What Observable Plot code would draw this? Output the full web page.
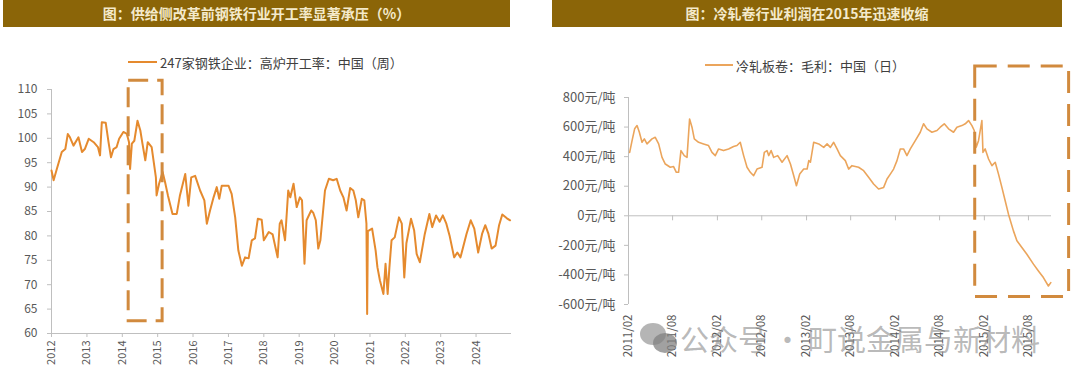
<!DOCTYPE html>
<html><head><meta charset="utf-8">
<script src="https://cdn.jsdelivr.net/npm/d3@7"></script>
<script src="https://cdn.jsdelivr.net/npm/@observablehq/plot@0.6"></script>
<style>
body{margin:0;background:#fff;font-family:"Noto Sans CJK SC","Noto Sans",sans-serif;}
#wrap{position:relative;width:1080px;height:383px;overflow:hidden;background:#fff}
.bar{position:absolute;top:0;height:27px;background:#8B6508;color:#F4EACB;font-size:14px;font-weight:bold;line-height:27px;text-align:center;white-space:nowrap}
.legend{position:absolute;font-size:13px;color:#404040;display:flex;align-items:center;white-space:nowrap;height:18px}
.legend i{display:inline-block;width:29px;height:2px;margin-right:3px}
.plot{position:absolute}
.wm{position:absolute;left:640px;top:318px;height:40px;display:flex;align-items:center;white-space:nowrap;font-size:29px;color:rgba(140,140,140,0.62);font-family:"Noto Sans CJK SC",sans-serif}
.wm .ic{position:relative;width:40px;height:34px}
.wm .ic b{position:absolute;border-radius:50%;background:rgba(150,150,150,0.7)}
</style>
</head><body>
<div id="wrap">
  <div class="bar" style="left:3px;width:507px">图：供给侧改革前钢铁行业开工率显著承压（%）</div>
  <div class="bar" style="left:552px;width:510px">图：冷轧卷行业利润在2015年迅速收缩</div>
  <div class="legend" style="left:128px;top:53px"><i style="background:#E58A2E"></i>247家钢铁企业：高炉开工率：中国（周）</div>
  <div class="legend" style="left:705px;top:56px"><i style="background:#EBA55C;width:28px"></i>冷轧板卷：毛利：中国（日）</div>
  <div id="left" class="plot" style="left:0;top:75px"></div>
  <div id="right" class="plot" style="left:540px;top:60px"></div>
  <div class="wm"><div class="ic"><b style="left:0;top:2px;width:26px;height:22px"></b><b style="left:13px;top:12px;width:24px;height:20px;background:rgba(130,130,130,0.75)"></b></div>公众号<span style="margin:0 6px">·</span>町说金属与新材料</div>
</div>
<script>
// ---- Left chart data: 247家钢铁企业 高炉开工率 (decimal year, %)
const leftYears = [2012.00,2012.06,2012.15,2012.29,2012.39,2012.46,2012.52,2012.62,2012.76,2012.86,2012.94,
 2013.05,2013.19,2013.31,2013.37,2013.42,2013.53,2013.61,2013.68,2013.75,2013.84,2013.91,
 2014.03,2014.13,2014.19,2014.22,2014.27,2014.34,2014.43,2014.51,2014.57,2014.65,2014.72,2014.83,2014.95,2014.97,
 2015.04,2015.14,2015.21,2015.29,2015.42,2015.54,2015.63,2015.78,2015.87,2015.95,
 2016.06,2016.20,2016.32,2016.39,2016.48,2016.58,2016.67,2016.74,2016.81,
 2017.00,2017.09,2017.19,2017.28,2017.38,2017.47,2017.57,2017.66,2017.75,2017.83,2017.94,
 2018.00,2018.14,2018.25,2018.39,2018.45,2018.50,2018.60,2018.69,2018.75,2018.84,2018.93,
 2019.02,2019.08,2019.15,2019.21,2019.34,2019.40,2019.47,2019.54,2019.60,2019.73,2019.84,2019.96,
 2020.06,2020.16,2020.25,2020.34,2020.44,2020.53,2020.60,2020.67,2020.77,2020.84,2020.90,2020.92,2020.94,
 2021.06,2021.16,2021.21,2021.28,2021.38,2021.44,2021.50,2021.55,2021.61,2021.70,2021.82,2021.90,2021.97,
 2022.03,2022.16,2022.25,2022.32,2022.41,2022.55,2022.68,2022.76,2022.87,2022.97,
 2023.06,2023.16,2023.25,2023.38,2023.47,2023.56,2023.73,2023.85,2023.95,
 2024.06,2024.17,2024.26,2024.35,2024.44,2024.55,2024.65,2024.74,2024.87,2024.96];
const leftValues = [93.4,91.4,93.7,97.2,97.8,100.9,100.2,98.5,100.2,97.2,97.8,
 99.9,99.2,98.2,96.5,103.3,103.2,99.2,96.1,97.8,98.2,99.9,
 101.3,100.9,99.2,93.7,98.9,99.5,103.6,101.6,98.9,95.5,99.2,98.2,92.0,88.3,
 90.7,93.1,91.0,88.3,84.5,84.5,88.3,92.7,86.2,92.0,
 92.3,89.3,87.3,82.5,85.2,87.9,90.0,87.6,90.3,
 90.3,88.6,83.8,77.0,73.9,75.6,75.4,79.1,79.5,83.5,83.3,
 79.1,80.8,80.3,75.6,82.5,83.2,79.1,89.3,87.9,90.7,85.9,
 87.9,87.3,74.3,83.2,85.2,84.7,83.2,77.4,79.1,89.3,91.7,91.4,
 91.7,89.3,87.9,85.2,89.8,89.3,87.3,83.8,87.6,87.3,82.5,64.0,81.0,
 81.5,77.0,73.6,70.9,68.1,74.3,68.1,73.6,79.1,79.7,83.8,82.5,71.5,
 78.5,83.5,81.1,76.3,74.6,80.4,84.5,81.8,84.2,82.9,
 84.2,82.5,80.1,75.6,76.6,75.6,80.4,83.2,81.5,
 76.6,80.4,82.2,80.4,77.4,78.0,82.2,84.4,83.6,83.2];
const leftYTicks = [60,65,70,75,80,85,90,95,100,105,110];
const leftXTickYears = [2012,2013,2014,2015,2016,2017,2018,2019,2020,2021,2022,2023,2024];
const leftDomainYears = [2012, 2025];
const leftBox = [{x1: 2014.18, x2: 2015.14, y1: 62.5, y2: 111.8}];

// ---- Right chart data: 冷轧板卷 毛利 (decimal year, 元/吨)
const rightYears = [2011.098,2011.125,2011.154,2011.181,2011.207,2011.237,2011.263,2011.293,2011.349,2011.386,2011.424,2011.462,2011.499,2011.555,2011.592,2011.623,2011.648,2011.675,2011.712,2011.743,2011.772,2011.799,2011.825,2011.873,2011.929,2011.985,
 2012.024,2012.061,2012.098,2012.154,2012.210,2012.266,2012.304,2012.341,2012.379,2012.417,2012.454,2012.491,2012.529,2012.585,2012.611,2012.641,2012.660,2012.687,2012.716,2012.761,2012.810,2012.866,2012.904,2012.941,2012.971,
 2013.008,2013.053,2013.091,2013.110,2013.128,2013.165,2013.222,2013.278,2013.316,2013.353,2013.390,2013.428,2013.465,2013.521,2013.558,2013.596,2013.670,2013.727,2013.783,2013.839,2013.895,2013.952,2013.990,
 2014.027,2014.064,2014.102,2014.139,2014.176,2014.214,2014.252,2014.308,2014.364,2014.401,2014.439,2014.495,2014.552,2014.589,2014.634,2014.682,2014.738,2014.776,2014.832,2014.870,2014.907,2014.945,2014.971,2014.993,
 2015.019,2015.057,2015.069,2015.094,2015.132,2015.170,2015.207,2015.244,2015.282,2015.319,2015.356,2015.412,2015.451,2015.507,2015.563,2015.637,2015.693,2015.749,2015.805,2015.832];
const rightValues = [429,508,588,610,565,497,520,486,520,531,486,395,350,328,333,294,294,441,407,395,655,599,520,497,486,475,
 429,407,452,441,452,468,475,497,407,328,294,271,316,328,429,441,407,441,395,407,362,407,350,271,203,
 282,316,316,373,362,497,486,463,486,463,497,452,407,373,316,339,328,305,260,215,181,192,249,
 282,316,373,452,452,407,452,508,565,622,588,565,577,599,622,588,565,599,610,622,644,610,577,463,
 508,644,429,452,384,339,362,282,192,102,11,-102,-169,-215,-260,-327,-373,-418,-475,-452];
const rightYTicks = [-600,-400,-200,0,200,400,600,800];
const rightXTickLabels = ["2011/02","2011/08","2012/02","2012/08","2013/02","2013/08","2014/02","2014/08","2015/02","2015/08"];
const rightDomainYears = [2011 + 1/12, 2015.84];
const rightBox = [{x1: 2014.982, x2: 2016.038, y1: -549, y2: 1010}];

// helpers
function toDate(y){const yr=Math.floor(y);const s=Date.UTC(yr,0,1),e=Date.UTC(yr+1,0,1);return new Date(s+(y-yr)*(e-s));}
function labelDate(s){const [a,b]=s.split("/").map(Number);return new Date(Date.UTC(a,b-1,1));}

const axisGray = "#bfbfbf", textGray = "#595959";
const font = '"Noto Sans CJK SC","Noto Sans",sans-serif';

const leftData = leftYears.map((y,i)=>({date: toDate(y), value: leftValues[i]}));
const leftBoxData = leftBox.map(b=>({x1: toDate(b.x1), x2: toDate(b.x2), y1: b.y1, y2: b.y2}));
const leftTicks = leftXTickYears.map(y=>toDate(y));

const leftPlot = Plot.plot({
  width: 540, height: 308,
  marginTop: 14, marginBottom: 50, marginLeft: 51, marginRight: 29,
  style: {fontFamily: font, fontSize: "12px", background: "transparent", overflow: "visible", color: textGray},
  x: {type: "utc", domain: leftDomainYears.map(toDate), label: null},
  y: {domain: [leftYTicks[0], leftYTicks[leftYTicks.length-1]], label: null},
  marks: [
    Plot.ruleY([leftYTicks[0]], {stroke: axisGray, strokeWidth: 1}),
    Plot.ruleX([toDate(leftDomainYears[0])], {y1: leftYTicks[0], y2: leftYTicks[leftYTicks.length-1], stroke: axisGray}),
    Plot.axisY(leftYTicks, {tickSize: 4, tickPadding: 10, stroke: axisGray, fill: textGray, fontSize: 12, label: null}),
    Plot.axisX(leftTicks, {tickSize: 4, tickPadding: 3, tickRotate: -90, tickFormat: d3.utcFormat("%Y"), stroke: axisGray, fill: textGray, fontSize: 11, label: null}),
    Plot.line(leftData, {x: "date", y: "value", stroke: "#E58A2E", strokeWidth: 2}),
    Plot.rect(leftBoxData, {x1: "x1", x2: "x2", y1: "y1", y2: "y2", fill: "none", stroke: "#D18A3E", strokeWidth: 3, strokeDasharray: "20,9"})
  ]
});
document.getElementById("left").appendChild(leftPlot);

const rightData = rightYears.map((y,i)=>({date: toDate(y), value: rightValues[i]}));
const rightBoxData = rightBox.map(b=>({x1: toDate(b.x1), x2: toDate(b.x2), y1: b.y1, y2: b.y2}));
const rightTicks = rightXTickLabels.map(labelDate);

const rightPlot = Plot.plot({
  width: 540, height: 323,
  marginTop: 37, marginBottom: 79, marginLeft: 88, marginRight: 29,
  style: {fontFamily: font, fontSize: "12px", background: "transparent", overflow: "visible", color: textGray},
  x: {type: "utc", domain: [labelDate(rightXTickLabels[0]), toDate(rightDomainYears[1])], label: null},
  y: {domain: [rightYTicks[0], rightYTicks[rightYTicks.length-1]], label: null},
  marks: [
    Plot.ruleY([0], {stroke: axisGray}),
    Plot.ruleX([labelDate(rightXTickLabels[0])], {y1: rightYTicks[0], y2: rightYTicks[rightYTicks.length-1], stroke: axisGray}),
    Plot.ruleX(rightTicks, {y1: 0, y2: -34, stroke: axisGray}),
    Plot.axisY(rightYTicks, {tickSize: 4, tickPadding: 9, stroke: axisGray, fill: textGray, fontSize: 13, tickFormat: d => d + "元/吨", label: null}),
    Plot.axisX(rightTicks, {anchor: "bottom", tickSize: 0, tickPadding: 10, tickRotate: -90, tickFormat: d3.utcFormat("%Y/%m"), fill: textGray, fontSize: 11.5, label: null}),
    Plot.line(rightData, {x: "date", y: "value", stroke: "#EBA55C", strokeWidth: 1.6}),
    Plot.rect(rightBoxData, {x1: "x1", x2: "x2", y1: "y1", y2: "y2", fill: "none", stroke: "#D18A3E", strokeWidth: 3, strokeDasharray: "22,11"})
  ]
});
document.getElementById("right").appendChild(rightPlot);
</script>
</body></html>
